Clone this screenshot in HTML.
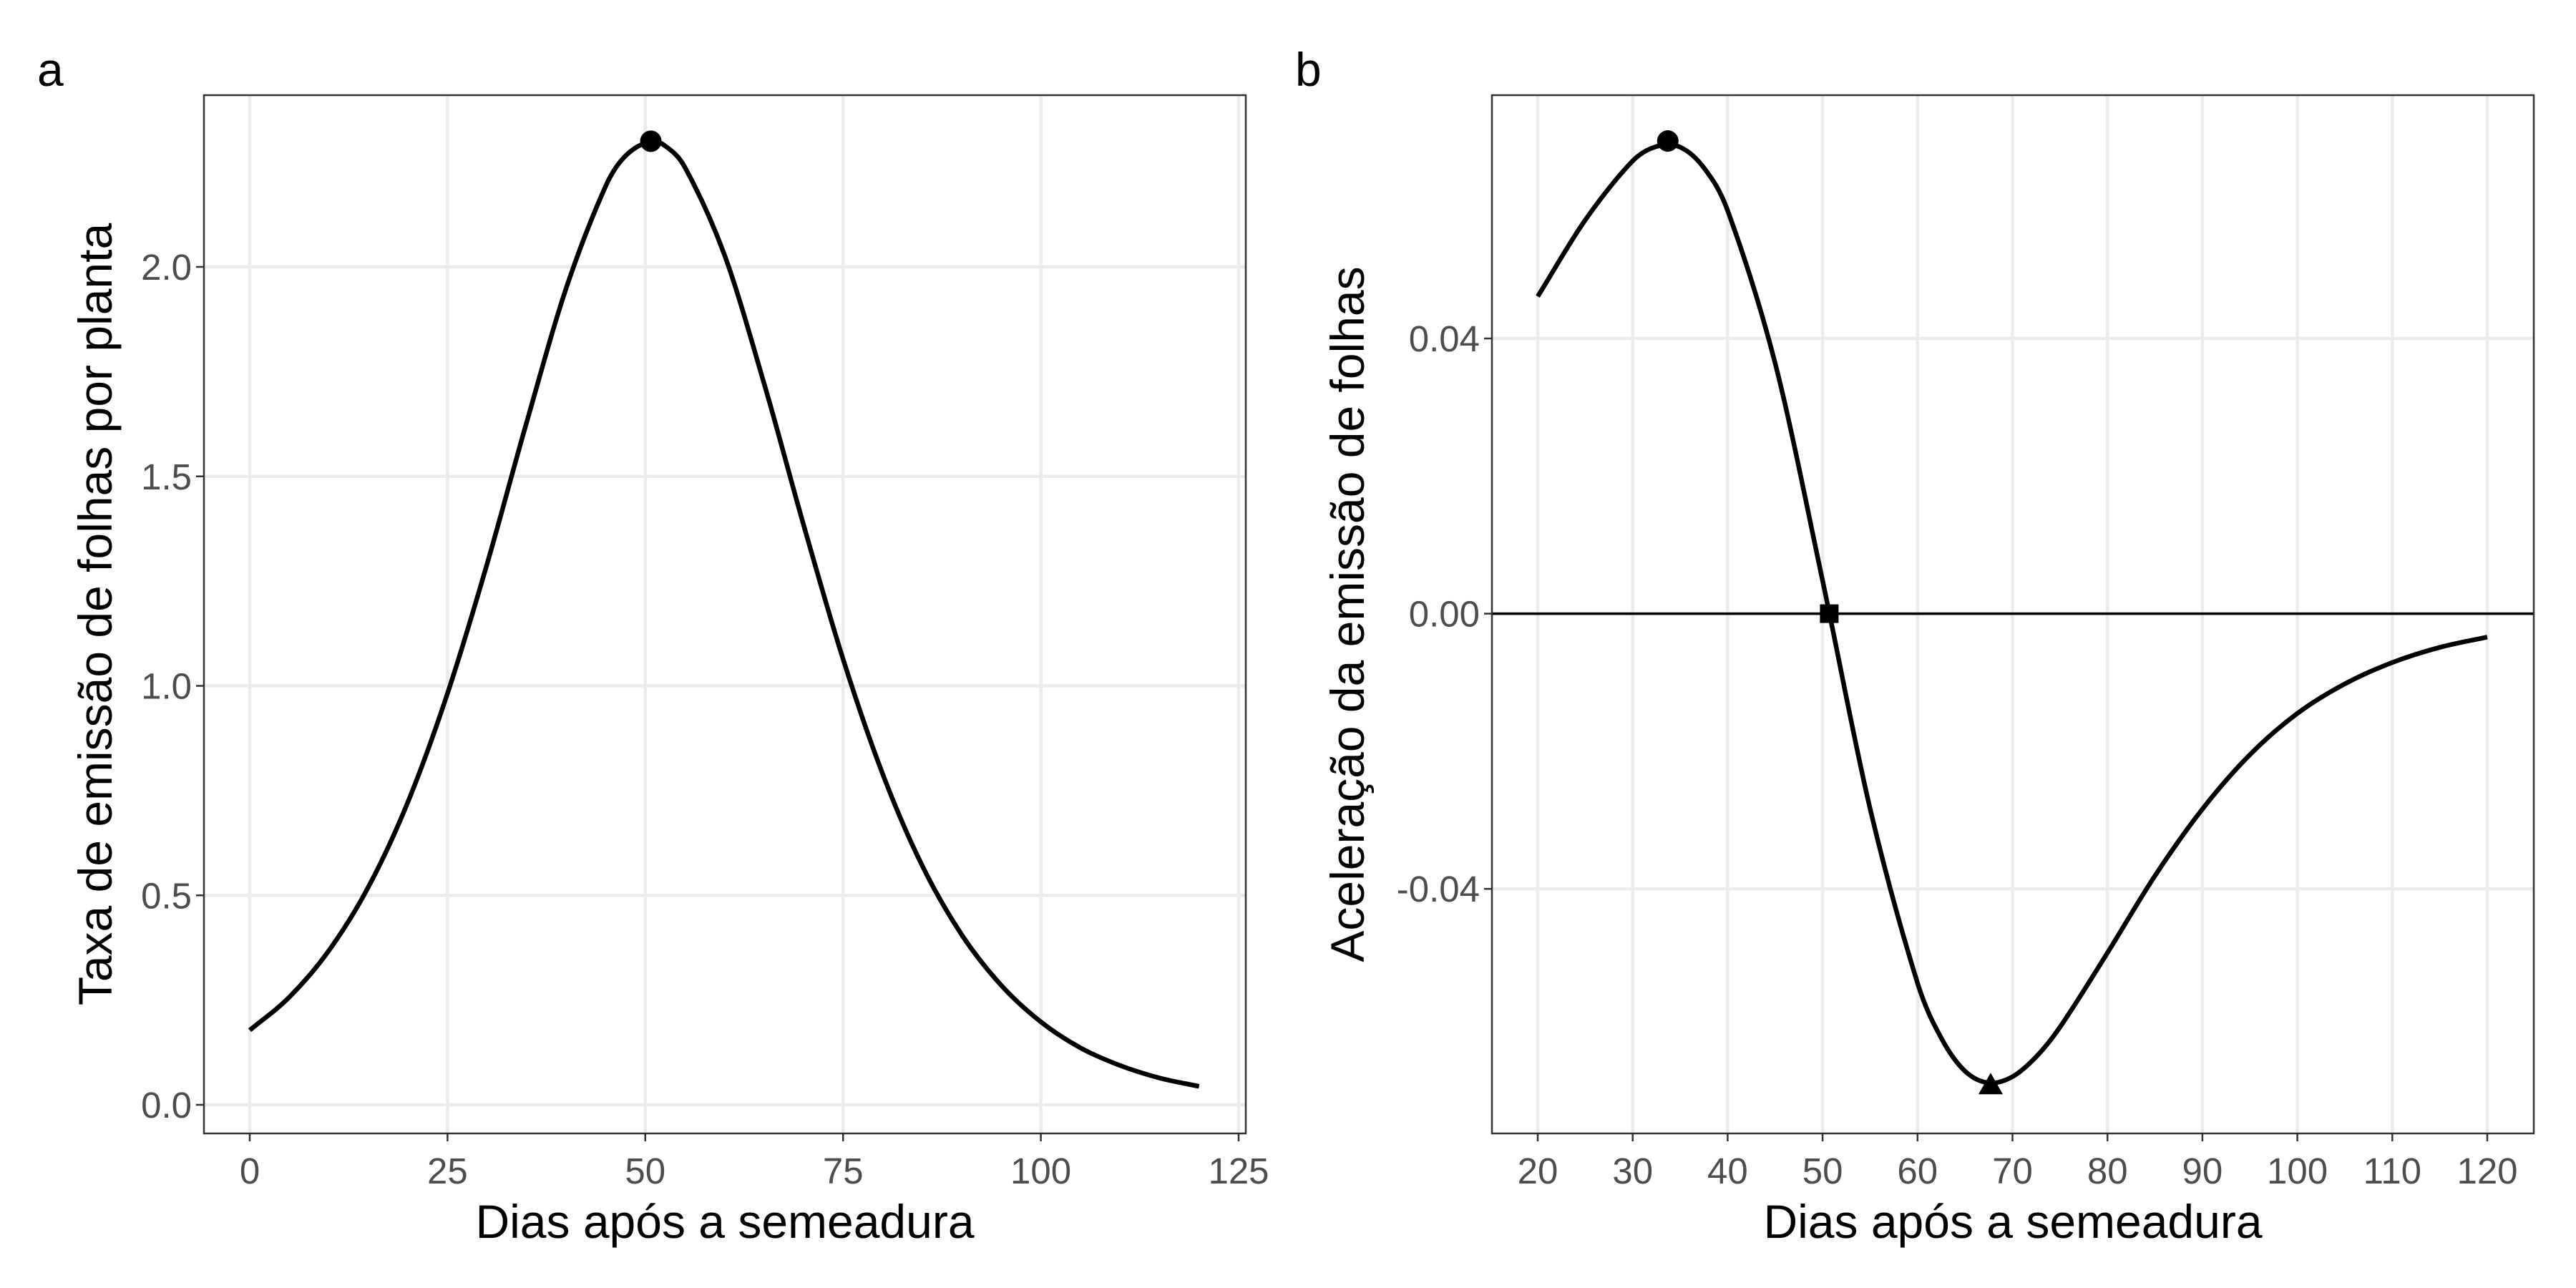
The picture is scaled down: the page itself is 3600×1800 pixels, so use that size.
<!DOCTYPE html>
<html><head><meta charset="utf-8"><style>
html,body{margin:0;padding:0;background:#fff}
svg{display:block}
text{font-family:"Liberation Sans",Arial,sans-serif}
</style></head><body>
<svg id="fig" width="3600" height="1800" viewBox="0 0 3600 1800" xmlns="http://www.w3.org/2000/svg">
<rect width="3600" height="1800" fill="#fff"/>
</svg>
<script>
// Panel a data
const daysA = [0,5,10,15,20,25,30,35,40,45,47.5,50.7,52.5,55,60,65,70,75,80,85,90,95,100,105,110,115,120];
const rateA = [0.178,0.257,0.368,0.520,0.723,0.982,1.291,1.629,1.949,2.193,2.265,2.30,2.289,2.238,2.029,1.723,1.385,1.064,0.790,0.571,0.406,0.285,0.198,0.136,0.094,0.064,0.044];
const peakA = [50.7, 2.30];
const xTicksA = [0,25,50,75,100,125];
const yTicksA = [0,0.5,1.0,1.5,2.0];
const yLabelsA = ["0.0","0.5","1.0","1.5","2.0"];
// Panel b data
const daysB = [20,25,30,32.5,35,37.5,40,45,50,55,60,62.5,65,67.5,70,72.5,75,80,85,90,95,100,105,110,115,120];
const accB = [0.0461,0.0572,0.0658,0.0679,0.0678,0.0648,0.0586,0.0364,0.0048,-0.0283,-0.0537,-0.0617,-0.0665,-0.0682,-0.0673,-0.0644,-0.0601,-0.0493,-0.0381,-0.0284,-0.0205,-0.0145,-0.0102,-0.0071,-0.0049,-0.0034];
const maxB = [33.7, 0.0687];
const zeroB = [50.7, 0];
const minB = [67.7, -0.0686];
const xTicksB = [20,30,40,50,60,70,80,90,100,110,120];
const yTicksB = [-0.04,0,0.04];
const yLabelsB = ["-0.04","0.00","0.04"];

const NS="http://www.w3.org/2000/svg";
const svg=document.getElementById('fig');
function mk(tag,attrs,parent){const e=document.createElementNS(NS,tag);for(const k in attrs)e.setAttribute(k,attrs[k]);(parent||svg).appendChild(e);return e;}
function lin(d0,d1,r0,r1){return v=>r0+(v-d0)*(r1-r0)/(d1-d0);}
function pathFrom(xs,ys,sx,sy){
  const p=xs.map((x,i)=>[sx(x),sy(ys[i])]);
  const n=p.length;
  const m=p.map((q,i)=>{
    const a=p[Math.max(0,i-1)],b=p[Math.min(n-1,i+1)];
    return (b[1]-a[1])/(b[0]-a[0]);
  });
  let d='M'+p[0][0].toFixed(1)+','+p[0][1].toFixed(1);
  for(let i=0;i<n-1;i++){
    const h=(p[i+1][0]-p[i][0])/3;
    d+=` C${(p[i][0]+h).toFixed(1)},${(p[i][1]+m[i]*h).toFixed(1)} ${(p[i+1][0]-h).toFixed(1)},${(p[i+1][1]-m[i+1]*h).toFixed(1)} ${p[i+1][0].toFixed(1)},${p[i+1][1].toFixed(1)}`;
  }
  return d;
}
function panel(cfg){
  const g=mk('g',{});
  
  
  const L=cfg.L,R=1741+cfg.off,T=133,B=1584;
  cfg.xt.forEach(v=>{const x=cfg.sx(v);if(x<L||x>R)return;
    const l=mk('line',{x1:x,x2:x,y1:T,y2:B,stroke:'#EBEBEB','stroke-width':4.5},g);
    
    });
  cfg.yt.forEach(v=>{const y=cfg.sy(v);
    const l=mk('line',{x1:L,x2:R,y1:y,y2:y,stroke:'#EBEBEB','stroke-width':4.5},g);
    
    });
  if(cfg.hline){const y=cfg.sy(0);
    const l=mk('line',{x1:L,x2:R,y1:y,y2:y,stroke:'#000','stroke-width':3.5},g);
    
    }
  const c=mk('path',{d:pathFrom(cfg.xs,cfg.ys,cfg.sx,cfg.sy),fill:'none',stroke:'#000','stroke-width':6.5,'stroke-linejoin':'round'},g);
  
  
  cfg.marks.forEach(m=>{
    const x=cfg.sx(m.p[0]),y=cfg.sy(m.p[1]);let e;
    if(m.s==='circle')e=mk('circle',{cx:x,cy:y,r:15,fill:'#000'},g);
    else if(m.s==='square')e=mk('rect',{x:x-13,y:y-13,width:26,height:26,fill:'#000'},g);
    else e=mk('polygon',{points:`${x},${y-18} ${x-17},${y+12} ${x+17},${y+12}`,fill:'#000'},g);
    
    
  });
  const b=mk('rect',{x:L,y:T,width:R-L,height:B-T,fill:'none',stroke:'#333','stroke-width':2.5},g);
  
  
  cfg.xt.forEach(v=>{const x=cfg.sx(v);
    const t=mk('line',{x1:x,x2:x,y1:B,y2:B+11,stroke:'#333','stroke-width':2.5},g);
    
    
    const tx=mk('text',{x:x,y:B+70,'text-anchor':'middle','font-size':51,fill:'#4D4D4D'},g);
    tx.textContent=String(v);
    
    });
  cfg.yt.forEach((v,i)=>{const y=cfg.sy(v);
    const t=mk('line',{x1:L-11,x2:L,y1:y,y2:y,stroke:'#333','stroke-width':2.5},g);
    
    
    const tx=mk('text',{x:L-17,y:y+18,'text-anchor':'end','font-size':51,fill:'#4D4D4D'},g);
    tx.textContent=cfg.yl[i];
    
    });
  const xt=mk('text',{x:(L+R)/2,y:1730,'text-anchor':'middle','font-size':66,fill:'#000'},g);
  xt.textContent='Dias após a semeadura';
  
  
  const yt=mk('text',{x:0,y:0,'text-anchor':'middle','font-size':66,fill:'#000',transform:`translate(${cfg.ytx},${(T+B)/2}) rotate(-90)`},g);
  yt.textContent=cfg.ytitle;
  
  
  const tg=mk('text',{x:cfg.tagx,y:120,'font-size':66,fill:'#000'},g);
  tg.textContent=cfg.tag;
  
  
}
panel({name:'panel-a',off:0,L:285,sx:lin(0,125,349,1731),sy:lin(0,2,1544,373),
  xt:xTicksA,yt:yTicksA,yl:yLabelsA,xs:daysA,ys:rateA,
  marks:[{p:peakA,s:'circle',n:'peak-point'}],
  ytitle:'Taxa de emissão de folhas por planta',ytx:156,tag:'a',tagx:52});
panel({name:'panel-b',off:1800,L:2085,sx:lin(20,120,2149,3476),sy:lin(0,0.04,857.6,473),
  xt:xTicksB,yt:yTicksB,yl:yLabelsB,xs:daysB,ys:accB,hline:true,
  marks:[{p:maxB,s:'circle',n:'max-acceleration-point'},{p:zeroB,s:'square',n:'inflection-point'},{p:minB,s:'triangle',n:'min-acceleration-point'}],
  ytitle:'Aceleração da emissão de folhas',ytx:1906,tag:'b',tagx:1810});
</script>
</body></html>
